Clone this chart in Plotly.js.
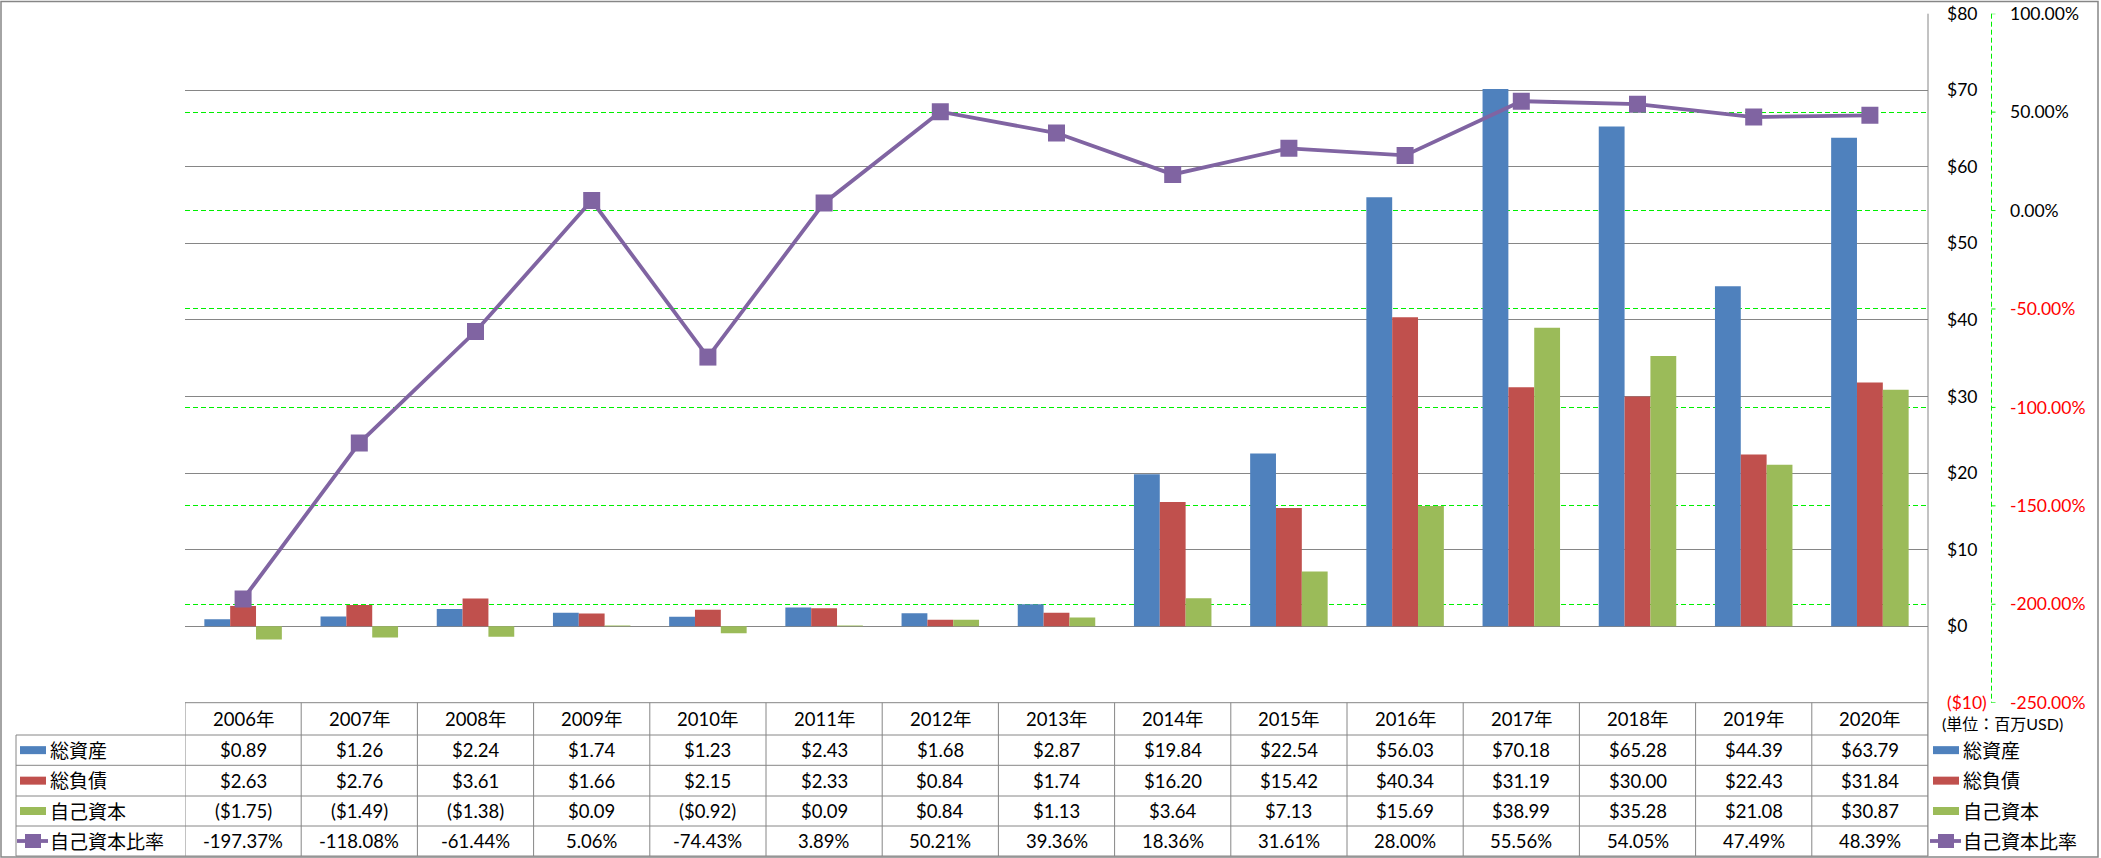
<!DOCTYPE html>
<html>
<head>
<meta charset="utf-8">
<title>総資産・総負債・自己資本</title>
<script src="https://cdn.plot.ly/plotly-3.0.1.min.js"></script>
<style>
  body { margin: 0; background: #fff; }
  #chart { width: 2101px; height: 858px; }
</style>
</head>
<body>
<div id="chart"></div>
<script>
var years = ['2006年', '2007年', '2008年', '2009年', '2010年', '2011年', '2012年', '2013年',
             '2014年', '2015年', '2016年', '2017年', '2018年', '2019年', '2020年'];
var totalAssets = [0.89, 1.26, 2.24, 1.74, 1.23, 2.43, 1.68, 2.87, 19.84, 22.54, 56.03, 70.18, 65.28, 44.39, 63.79];
var totalLiabilities = [2.63, 2.76, 3.61, 1.66, 2.15, 2.33, 0.84, 1.74, 16.20, 15.42, 40.34, 31.19, 30.00, 22.43, 31.84];
var equity = [-1.75, -1.49, -1.38, 0.09, -0.92, 0.09, 0.84, 1.13, 3.64, 7.13, 15.69, 38.99, 35.28, 21.08, 30.87];
var equityRatio = [-197.37, -118.08, -61.44, 5.06, -74.43, 3.89, 50.21, 39.36, 18.36, 31.61, 28.00, 55.56, 54.05, 47.49, 48.39];

var seriesNames = ['総資産', '総負債', '自己資本', '自己資本比率'];
var seriesColors = ['#4F81BD', '#C0504D', '#9BBB59', '#8064A2'];
var dollarTicks = [-10, 0, 10, 20, 30, 40, 50, 60, 70, 80];
var percentTicks = [-250, -200, -150, -100, -50, 0, 50, 100];
var unitLabel = '(単位：百万USD)';

// page geometry in pixels
var W = 2101, H = 858;
var plotLeft = 185, plotRight = 1928, plotTop = 13.7, plotBottom = 702.7;
var rowEdges = [702.7, 735, 765.3, 796, 826, 856];
var pctAxisX = 1991.5, pctLabelX = 2009;
function px(x) { return x / W; }
function py(y) { return 1 - y / H; }

var FONT = 'Lato, "Noto Sans CJK JP", sans-serif';
var GRAY = '#868686';
var GREEN = '#00F000';

function fmtDollar(v) {
    return v < 0 ? '($' + Math.abs(v).toFixed(2) + ')' : '$' + v.toFixed(2);
}
function fmtPct(v) { return v.toFixed(2) + '%'; }
function red(s) { return '<span style="color:#FF0000">' + s + '</span>'; }

var data = [
    {type: 'bar', name: seriesNames[0], x: years, y: totalAssets, marker: {color: seriesColors[0]}},
    {type: 'bar', name: seriesNames[1], x: years, y: totalLiabilities, marker: {color: seriesColors[1]}},
    {type: 'bar', name: seriesNames[2], x: years, y: equity, marker: {color: seriesColors[2]}},
    {type: 'scatter', mode: 'lines+markers', name: seriesNames[3], x: years, y: equityRatio, yaxis: 'y2',
     line: {color: seriesColors[3], width: 3.8},
     marker: {symbol: 'square', size: 17, color: seriesColors[3]}}
];

var shapes = [];
var annotations = [];

function hline(y, x0, x1) {
    shapes.push({type: 'line', xref: 'paper', yref: 'paper', x0: px(x0), x1: px(x1), y0: py(y), y1: py(y),
                 line: {color: GRAY, width: 1}});
}

// outer frame and right edge of the plot area
shapes.push({type: 'rect', xref: 'paper', yref: 'paper', x0: px(1), x1: px(2098), y0: py(1.5), y1: py(857),
             line: {color: GRAY, width: 1.5}});
shapes.push({type: 'line', xref: 'paper', yref: 'paper', x0: px(plotRight), x1: px(plotRight),
             y0: py(plotTop), y1: py(rowEdges[5]), line: {color: GRAY, width: 1}});

// data table grid
hline(rowEdges[0], plotLeft, plotRight);
for (var r = 1; r < rowEdges.length; r++) hline(rowEdges[r], 16, plotRight);
shapes.push({type: 'line', xref: 'paper', yref: 'paper', x0: px(16), x1: px(16), y0: py(rowEdges[1]), y1: py(rowEdges[5]),
             line: {color: GRAY, width: 1}});
for (var i = 0; i <= years.length; i++) {
    shapes.push({type: 'line', xref: 'x', yref: 'paper', x0: i - 0.5, x1: i - 0.5, y0: py(rowEdges[0]), y1: py(rowEdges[5]),
                 line: {color: GRAY, width: 1}});
}

// percent axis: dashed line and small ticks
shapes.push({type: 'line', xref: 'paper', yref: 'paper', x0: px(pctAxisX), x1: px(pctAxisX), y0: py(plotTop), y1: py(plotBottom),
             line: {color: GREEN, width: 1, dash: '5px,3px'}});
percentTicks.forEach(function (v) {
    shapes.push({type: 'line', xref: 'paper', yref: 'y2', x0: px(pctAxisX), x1: px(pctAxisX + 4), y0: v, y1: v,
                 line: {color: GREEN, width: 1}});
});

// table text
var rowValues = [totalAssets.map(fmtDollar), totalLiabilities.map(fmtDollar), equity.map(fmtDollar), equityRatio.map(fmtPct)];
function rowMid(r) { return py((rowEdges[r] + rowEdges[r + 1]) / 2); }
years.forEach(function (yr, i) {
    annotations.push({xref: 'x', yref: 'paper', x: yr, y: rowMid(0), text: yr, showarrow: false,
                      xanchor: 'center', yanchor: 'middle', font: {size: 18.5}});
    for (var r = 0; r < 4; r++) {
        annotations.push({xref: 'x', yref: 'paper', x: yr, y: rowMid(r + 1), text: rowValues[r][i], showarrow: false,
                          xanchor: 'center', yanchor: 'middle', font: {size: 18.5}});
    }
});

// legend keys, in the table and to the right
function legendKey(r, kx, lx) {
    var yc = (rowEdges[r + 1] + rowEdges[r + 2]) / 2;
    var c = seriesColors[r];
    if (r < 3) {
        shapes.push({type: 'rect', xref: 'paper', yref: 'paper', x0: px(kx), x1: px(kx + 26), y0: py(yc - 4), y1: py(yc + 4),
                     line: {width: 0}, fillcolor: c});
    } else {
        shapes.push({type: 'line', xref: 'paper', yref: 'paper', x0: px(kx - 3), x1: px(kx + 28), y0: py(yc), y1: py(yc),
                     line: {color: c, width: 3.8}});
        shapes.push({type: 'rect', xref: 'paper', yref: 'paper', x0: px(kx + 5), x1: px(kx + 21), y0: py(yc - 7), y1: py(yc + 7),
                     line: {width: 0}, fillcolor: c});
    }
    annotations.push({xref: 'paper', yref: 'paper', x: px(lx), y: py(yc), text: seriesNames[r], showarrow: false,
                      xanchor: 'left', yanchor: 'middle', font: {size: 19}});
}
for (var k = 0; k < 4; k++) {
    legendKey(k, 20, 48);
    legendKey(k, 1933, 1961);
}
annotations.push({xref: 'paper', yref: 'paper', x: px(1940), y: py(723), text: unitLabel, showarrow: false,
                  xanchor: 'left', yanchor: 'middle', font: {size: 16}});

var layout = {
    width: W, height: H,
    margin: {l: 0, r: 0, t: 0, b: 0},
    paper_bgcolor: '#FFFFFF', plot_bgcolor: 'rgba(0,0,0,0)',
    font: {family: FONT, size: 17, color: '#000000'},
    showlegend: false,
    barmode: 'group', bargap: 0.333, bargroupgap: 0,
    xaxis: {domain: [px(plotLeft), px(plotRight)], type: 'category', range: [-0.5, years.length - 0.5],
            showticklabels: false, showgrid: false, zeroline: false, showline: false, ticks: ''},
    yaxis: {domain: [py(plotBottom), py(plotTop)], range: [-10, 80], side: 'right',
            tickvals: dollarTicks,
            ticktext: dollarTicks.map(function (v) { return v < 0 ? red('($' + Math.abs(v) + ')') : '$' + v; }),
            tickfont: {color: '#000000', size: 17.5},
            showgrid: true, gridcolor: GRAY, gridwidth: 1, zeroline: false, showline: false, ticks: '',
            ticklabelstandoff: 18},
    yaxis2: {overlaying: 'y', side: 'right', anchor: 'free', position: px(pctLabelX), range: [-250, 100],
             tickvals: percentTicks,
             ticktext: percentTicks.map(function (v) { return v < 0 ? red(fmtPct(v)) : fmtPct(v); }),
             tickfont: {color: '#000000', size: 17.5},
             showgrid: true, gridcolor: GREEN, gridwidth: 1, griddash: '5px,3px', zeroline: false, showline: false,
             ticks: ''},
    shapes: shapes,
    annotations: annotations
};

Plotly.newPlot('chart', data, layout, {staticPlot: true});
</script>
</body>
</html>
